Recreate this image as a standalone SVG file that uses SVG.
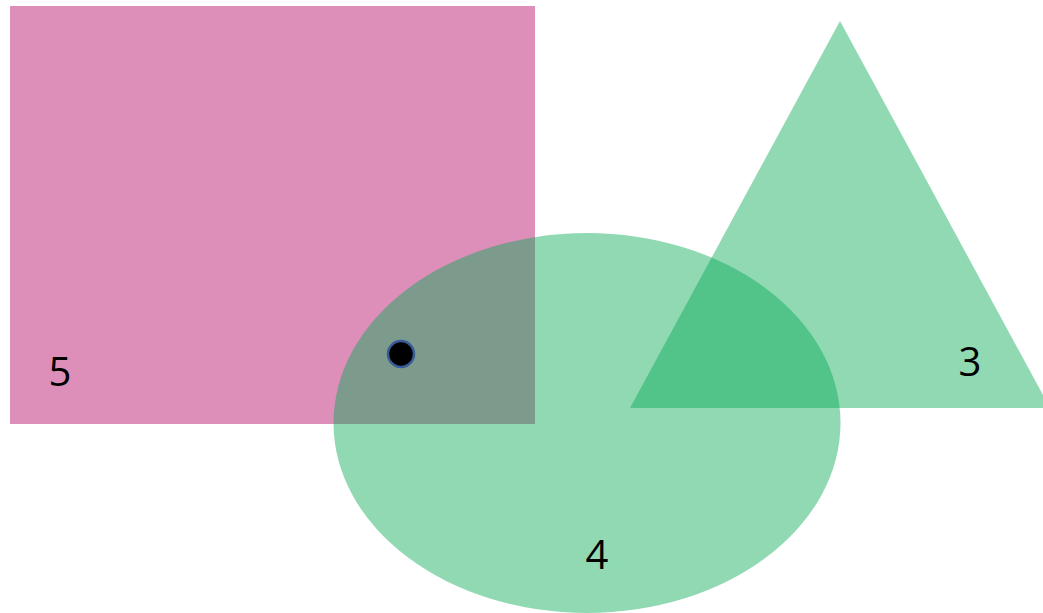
<svg xmlns="http://www.w3.org/2000/svg" width="1043" height="613" viewBox="0 0 1043 613">
<style>
.g{fill:rgb(9,171,86);fill-opacity:0.45}
.t{font-family:"Open Sans","Liberation Sans",sans-serif;font-size:40px;fill:#000;text-anchor:middle}
</style>
<rect width="1043" height="613" fill="#fff"/>
<g id="node5">
<rect x="10" y="6" width="525" height="418" fill="rgb(221,143,185)"/>
<text class="t" x="60" y="386">5</text>
</g>
<g id="node3">
<polygon class="g" points="840,21 630,408 1050,408"/>
<text class="t" x="970" y="376">3</text>
</g>
<g id="node4">
<ellipse class="g" cx="587" cy="423" rx="253.5" ry="190"/>
<text class="t" x="597" y="569">4</text>
</g>
<g id="dot">
<circle cx="401" cy="354" r="13" fill="#000" stroke="#3a5a9a" stroke-width="2.5"/>
</g>
<g id="connectors"></g>
</svg>
